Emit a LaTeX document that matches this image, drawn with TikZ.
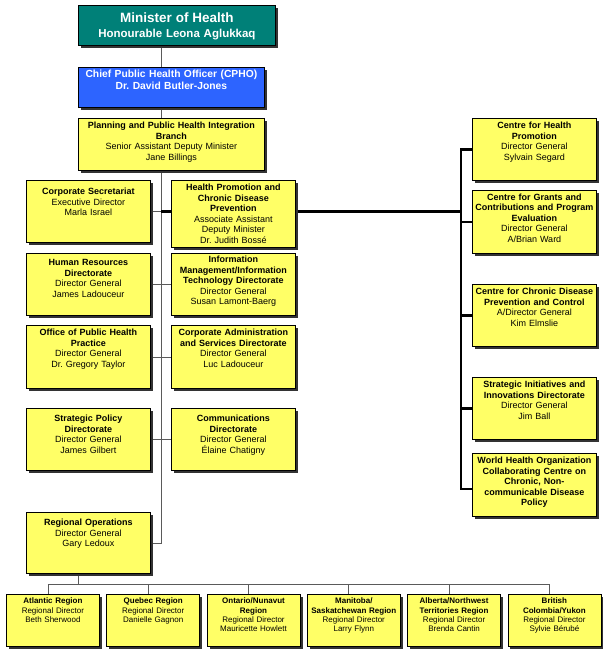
\documentclass[tikz,border=0pt]{standalone}
\usepackage{fontspec}
\setmainfont{Liberation Sans}
\frenchspacing
\usepackage{tikz}
\usetikzlibrary{
  positioning,
  shadows,
  backgrounds
}
\definecolor{ministerteal}{RGB}{0,128,120}
\definecolor{cphoblue}{RGB}{45,100,255}
\definecolor{unityellow}{RGB}{255,255,102}
\definecolor{linegray}{RGB}{90,90,90}
\tikzset{
  topgap/.style 2 args={text height=#1, text depth=#2},
  headbox/.style={draw, line width=0.8pt, text=white, align=center,
    anchor=north west, inner xsep=1pt, inner ysep=0pt,
    drop shadow={shadow xshift=2.5pt, shadow yshift=-2.5pt,
      fill=black!80, opacity=1}},
  orgbox/.style={draw, line width=0.8pt, fill=unityellow, align=center,
    anchor=north west, inner xsep=1pt, inner ysep=0pt, text width=122pt,
    font=\fontsize{9}{10.5}\selectfont,
    drop shadow={shadow xshift=2.5pt, shadow yshift=-2.5pt,
      fill=black!80, opacity=1}},
  regionbox/.style={orgbox, text width=91pt,
    font=\fontsize{8}{9.3}\selectfont, topgap={9.5pt}{42.5pt}},
  link/.style={draw=linegray, line width=0.8pt},
  trunk/.style={draw=black, line width=2.6pt, line join=miter},
}

\begin{document}
\begin{tikzpicture}[x=1pt, y=-1pt]
  \useasboundingbox (0,0) rectangle (605,652);

  % Minister and CPHO
  \node[headbox, fill=ministerteal, text width=195pt, topgap={17.5pt}{22.5pt},
        font=\bfseries\fontsize{11.5}{15}\selectfont] (mh) at (78,5)
    {{\fontsize{13.5}{15}\selectfont Minister of Health}\\Honourable Leona Aglukkaq};
  \node[headbox, fill=cphoblue, text width=184pt, topgap={10.5pt}{29.5pt},
        font=\bfseries\fontsize{10.3}{12}\selectfont] (cpho) at (78,67)
    {Chief Public Health Officer (CPHO)\\Dr. David Butler-Jones};
  \node[orgbox, text width=184pt, topgap={10.5pt}{41.5pt}] (pphi) at (78,118)
    {\textbf{Planning and Public Health Integration}\\\textbf{Branch}\\
     Senior Assistant Deputy Minister\\Jane Billings};

  % Left column
  \node[orgbox, topgap={14.5pt}{47.5pt}] (cs) at (26,180)
    {\textbf{Corporate Secretariat}\\Executive Director\\Marla Israel};
  \node[orgbox, topgap={12.5pt}{49.5pt}] (hr) at (26,253)
    {\textbf{Human Resources}\\\textbf{Directorate}\\Director General\\James Ladouceur};
  \node[orgbox, topgap={10.5pt}{52.5pt}] (ophp) at (26,325)
    {\textbf{Office of Public Health}\\\textbf{Practice}\\Director General\\Dr. Gregory Taylor};
  \node[orgbox, topgap={13.5pt}{48.5pt}] (stp) at (26,408)
    {\textbf{Strategic Policy}\\\textbf{Directorate}\\Director General\\James Gilbert};
  \node[orgbox, topgap={13.5pt}{47.5pt}] (ro) at (26,512)
    {\textbf{Regional Operations}\\Director General\\Gary Ledoux};

  % Middle column
  \node[orgbox, topgap={10.5pt}{56.5pt}] (hpcdp) at (171,180)
    {\textbf{Health Promotion and}\\\textbf{Chronic Disease}\\\textbf{Prevention}\\
     Associate Assistant\\Deputy Minister\\Dr. Judith Bossé};
  \node[orgbox, topgap={9.5pt}{52.5pt}] (imit) at (171,253)
    {\textbf{Information}\\\textbf{Management/Information}\\\textbf{Technology Directorate}\\
     Director General\\Susan Lamont-Baerg};
  \node[orgbox, topgap={10.5pt}{52.5pt}] (cas) at (171,325)
    {\textbf{Corporate Administration}\\\textbf{and Services Directorate}\\
     Director General\\Luc Ladouceur};
  \node[orgbox, topgap={13.5pt}{48.5pt}] (comm) at (171,408)
    {\textbf{Communications}\\\textbf{Directorate}\\Director General\\Élaine Chatigny};

  % Right column
  \node[orgbox, topgap={10.5pt}{51.5pt}] (chp) at (472,118)
    {\textbf{Centre for Health}\\\textbf{Promotion}\\Director General\\Sylvain Segard};
  \node[orgbox, topgap={10pt}{53pt}] (gce) at (472,190)
    {\textbf{Centre for Grants and}\\\textbf{Contributions and Program}\\\textbf{Evaluation}\\
     Director General\\A/Brian Ward};
  \node[orgbox, topgap={10.5pt}{51.5pt}] (ccd) at (472,284)
    {\textbf{Centre for Chronic Disease}\\\textbf{Prevention and Control}\\
     A/Director General\\Kim Elmslie};
  \node[orgbox, topgap={10.5pt}{51.5pt}] (sii) at (472,377)
    {\textbf{Strategic Initiatives and}\\\textbf{Innovations Directorate}\\
     Director General\\Jim Ball};
  \node[orgbox, topgap={10.5pt}{52.5pt}] (who) at (472,453)
    {\textbf{World Health Organization}\\\textbf{Collaborating Centre on}\\
     \textbf{Chronic, Non-}\\\textbf{communicable Disease}\\\textbf{Policy}};

  % Regions
  \node[regionbox] (atl) at (6,594)
    {\textbf{Atlantic Region}\\Regional Director\\Beth Sherwood};
  \node[regionbox, right=6.5pt of atl] (que)
    {\textbf{Quebec Region}\\Regional Director\\Danielle Gagnon};
  \node[regionbox, right=6.5pt of que] (onu)
    {\textbf{Ontario/Nunavut}\\\textbf{Region}\\Regional Director\\Mauricette Howlett};
  \node[regionbox, right=6.5pt of onu] (msk)
    {\textbf{Manitoba/}\\\textbf{Saskatchewan Region}\\Regional Director\\Larry Flynn};
  \node[regionbox, right=6.5pt of msk] (ant)
    {\textbf{Alberta/Northwest}\\\textbf{Territories Region}\\Regional Director\\Brenda Cantin};
  \node[regionbox, right=6.5pt of ant] (bcy)
    {\textbf{British}\\\textbf{Colombia/Yukon}\\Regional Director\\Sylvie Bérubé};

  % Connectors
  \begin{scope}[on background layer]
    \coordinate (spine) at (161,45);
    \coordinate (bus) at (461,149);
    \coordinate (rbus) at (78,584);
    \draw[link] (spine |- mh.south) -- (spine |- ro.east) -- (ro.east);
    \draw[link] (cs.east) -- (cs.east -| spine);
    \draw[trunk] (cs.east -| spine) -- (cs.east -| bus);
    \foreach \a/\b in {hr/imit, ophp/cas, stp/comm}
      \draw[link] (\a.east) -- (\b.west);
    \coordinate (whotick) at ([yshift=-4pt]who.west);
    \draw[trunk] (chp.west) -- (chp.west -| bus) -- (whotick -| bus) -- (whotick);
    \foreach \n in {gce, ccd, sii}
      \draw[trunk] (\n.west -| bus) -- (\n.west);
    % regional offices
    \coordinate (rodrop) at ([xshift=-10pt]ro.south);
    \draw[link] (rodrop) -- (rodrop |- rbus);
    \foreach \n in {atl, que, onu, msk, ant, bcy} {
      \coordinate (\n top) at ([xshift=-5pt]\n.north);
      \draw[link] (\n top |- rbus) -- (\n top);
    }
    \draw[link] (atltop |- rbus) -- (bcytop |- rbus);
  \end{scope}
\end{tikzpicture}
\end{document}
